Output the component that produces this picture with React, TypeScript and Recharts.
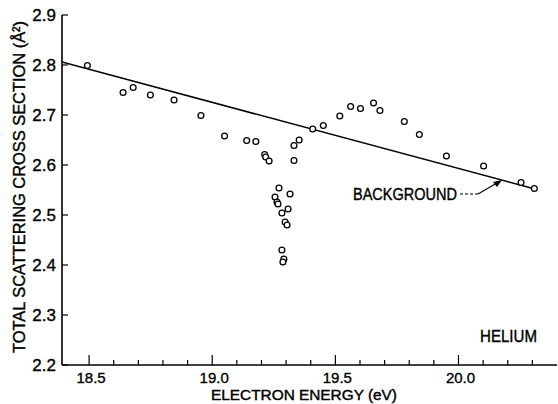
import { ComposedChart, XAxis, YAxis, Line, Scatter } from 'recharts';

// measured points (eV, Å²)
const energy = [
  18.493, 18.638, 18.679, 18.749, 18.845, 18.954, 19.05, 19.14, 19.177, 19.213,
  19.217, 19.231, 19.271, 19.255, 19.316, 19.263, 19.267, 19.308, 19.283, 19.296,
  19.304, 19.283, 19.291, 19.287, 19.332, 19.332, 19.353, 19.408, 19.451, 19.518,
  19.562, 19.602, 19.655, 19.681, 19.78, 19.841, 19.951, 20.102, 20.254, 20.308,
];
const crossSection = [
  2.799, 2.745, 2.755, 2.74, 2.73, 2.699, 2.658, 2.649, 2.647, 2.621,
  2.616, 2.608, 2.554, 2.536, 2.542, 2.526, 2.522, 2.512, 2.504, 2.486,
  2.48, 2.43, 2.412, 2.406, 2.609, 2.639, 2.65, 2.672, 2.679, 2.698,
  2.717, 2.713, 2.724, 2.709, 2.687, 2.661, 2.618, 2.598, 2.565, 2.553,
];

// straight background line
const backgroundEnergy = [18.39, 20.31];
const backgroundValue = [2.806, 2.552];

const xMajorTicks = [18.5, 19.0, 19.5, 20.0];
const xMinorTicks = [18.6, 18.7, 18.8, 18.9, 19.1, 19.2, 19.3, 19.4, 19.6, 19.7, 19.8, 19.9, 20.1, 20.2, 20.3];
const yTicks = [2.2, 2.3, 2.4, 2.5, 2.6, 2.7, 2.8, 2.9];

const points = energy.map((e, i) => ({ x: e, y: crossSection[i] }));
const background = backgroundEnergy.map((e, i) => ({ x: e, y: backgroundValue[i] }));
const xTicks = [...xMajorTicks, ...xMinorTicks].sort((a, b) => a - b);

const FONT = '"Liberation Sans", Arial, sans-serif';

const BottomTick = (props: any) => {
  const { x, y, payload } = props;
  const major = xMajorTicks.includes(payload.value);
  return (
    <g>
      <line x1={x} x2={x} y1={y} y2={y - (major ? 10 : 5)} stroke="#000" strokeWidth={1.2} />
      {major && (
        <text x={x + 2} y={y + 18} textAnchor="middle" fontSize={15} fontFamily={FONT} fill="#000" stroke="#000" strokeWidth={0.35}>
          {payload.value.toFixed(1)}
        </text>
      )}
    </g>
  );
};

const TopTick = (props: any) => {
  const { x, y, payload } = props;
  const major = xMajorTicks.includes(payload.value);
  return <line x1={x} x2={x} y1={y} y2={y + (major ? 10 : 5)} stroke="#000" strokeWidth={1.2} />;
};

const LeftTick = (props: any) => {
  const { x, y, payload } = props;
  return (
    <g>
      <line x1={x} x2={x + 6} y1={y} y2={y} stroke="#000" strokeWidth={1.2} />
      <text x={x - 6} y={y + 6} textAnchor="end" fontSize={17} fontFamily={FONT} fill="#000" stroke="#000" strokeWidth={0.35}>
        {payload.value.toFixed(1)}
      </text>
    </g>
  );
};

const RightTick = (props: any) => {
  const { x, y } = props;
  return <line x1={x} x2={x - 6} y1={y} y2={y} stroke="#000" strokeWidth={1.2} />;
};

const OpenCircle = (props: any) => (
  <circle cx={props.cx} cy={props.cy} r={2.9} fill="#fff" stroke="#000" strokeWidth={1.3} />
);

export default function App() {
  const axisLine = { stroke: '#000', strokeWidth: 1.6 };
  const heavy = { fill: '#000', stroke: '#000', strokeWidth: 0.4 };
  return (
    <div style={{ position: 'absolute', left: 0, top: 0, width: 558, height: 404, background: '#fff' }}>
      <ComposedChart width={558} height={404} margin={{ top: 15, right: 1, bottom: 0, left: 0 }}>
        <XAxis
          type="number"
          dataKey="x"
          domain={[18.39, 20.4]}
          allowDataOverflow
          ticks={xTicks}
          interval={0}
          tickSize={0}
          tickMargin={0}
          height={39}
          axisLine={axisLine}
          tick={<BottomTick />}
        />
        <XAxis
          xAxisId="top"
          orientation="top"
          type="number"
          dataKey="x"
          domain={[18.39, 20.4]}
          allowDataOverflow
          ticks={xTicks}
          interval={0}
          tickSize={0}
          tickMargin={0}
          height={0}
          axisLine={axisLine}
          tick={<TopTick />}
        />
        <YAxis
          type="number"
          dataKey="y"
          domain={[2.2, 2.9]}
          allowDataOverflow
          ticks={yTicks}
          interval={0}
          tickSize={0}
          tickMargin={0}
          width={62}
          axisLine={axisLine}
          tick={<LeftTick />}
        />
        <YAxis
          yAxisId="right"
          orientation="right"
          type="number"
          dataKey="y"
          domain={[2.2, 2.9]}
          allowDataOverflow
          ticks={yTicks}
          interval={0}
          tickSize={0}
          tickMargin={0}
          width={0}
          axisLine={axisLine}
          tick={<RightTick />}
        />
        <Line
          data={background}
          dataKey="y"
          type="linear"
          stroke="#000"
          strokeWidth={1.5}
          dot={false}
          isAnimationActive={false}
        />
        <Scatter data={points} dataKey="y" shape={<OpenCircle />} isAnimationActive={false} />
      </ComposedChart>
      <svg
        width={558}
        height={404}
        style={{ position: 'absolute', left: 0, top: 0, pointerEvents: 'none' }}
        fontFamily={FONT}
      >
        <text
          transform="translate(25,187) rotate(-90)"
          textAnchor="middle"
          fontSize={17}
          textLength={332}
          lengthAdjust="spacingAndGlyphs"
          {...heavy}
        >
          TOTAL SCATTERING CROSS SECTION (Å²)
        </text>
        <text x={304} y={400} textAnchor="middle" fontSize={14} textLength={186} lengthAdjust="spacingAndGlyphs" {...heavy}>
          ELECTRON ENERGY (eV)
        </text>
        <text x={353} y={200} fontSize={17} textLength={104} lengthAdjust="spacingAndGlyphs" {...heavy}>
          BACKGROUND
        </text>
        <line x1={460} y1={194} x2={478} y2={194} stroke="#000" strokeWidth={1.1} strokeDasharray="3 2" />
        <line x1={478} y1={194} x2={497} y2={183} stroke="#000" strokeWidth={1.1} />
        <polygon points="502,180 493,182 497,187" fill="#000" />
        <text x={480} y={342} fontSize={17} textLength={57} lengthAdjust="spacingAndGlyphs" {...heavy}>
          HELIUM
        </text>
      </svg>
    </div>
  );
}
